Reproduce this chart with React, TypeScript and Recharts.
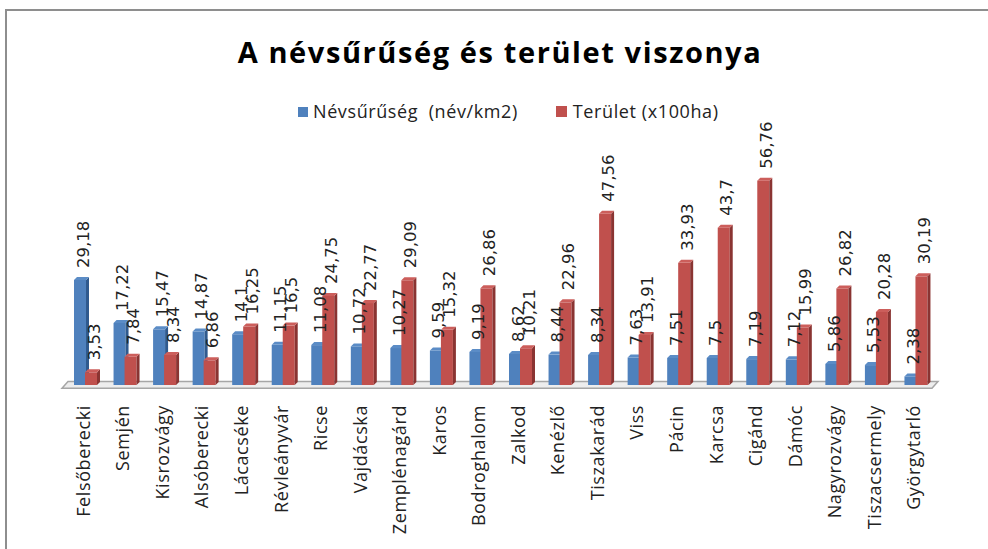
import React from 'react';
import { BarChart, Bar, XAxis, YAxis, LabelList, ReferenceArea } from 'recharts';

const categories = [
  'Felsőberecki', 'Semjén', 'Kisrozvágy', 'Alsóberecki', 'Lácacséke', 'Révleányvár',
  'Ricse', 'Vajdácska', 'Zemplénagárd', 'Karos', 'Bodroghalom', 'Zalkod', 'Kenézlő',
  'Tiszakarád', 'Viss', 'Pácin', 'Karcsa', 'Cigánd', 'Dámóc', 'Nagyrozvágy',
  'Tiszacsermely', 'Györgytarló',
];
const nevsuruseg = [
  29.18, 17.22, 15.47, 14.87, 14.1, 11.15, 11.08, 10.72, 10.27, 9.59, 9.19, 8.62, 8.44,
  8.34, 7.63, 7.51, 7.5, 7.19, 7.12, 5.86, 5.53, 2.38,
];
const terulet = [
  3.53, 7.84, 8.34, 6.86, 16.25, 16.5, 24.75, 22.77, 29.09, 15.32, 26.86, 10.21, 22.96,
  47.56, 13.91, 33.93, 43.7, 56.76, 15.99, 26.82, 20.28, 30.19,
];
const seriesNames = ['Névsűrűség  (név/km2)', 'Terület (x100ha)'];
const title = 'A névsűrűség és terület viszonya';

const data = categories.map((name, i) => ({ name, nev: nevsuruseg[i], ter: terulet[i] }));

const BLUE = '#4F81BD';
const BLUE_SIDE = '#2F5A8E';
const BLUE_TOP = '#5B8CC6';
const RED = '#C0504D';
const RED_SIDE = '#8A3432';
const RED_TOP = '#CC5E5B';
const D = 3;

const make3DBar = (front: string, side: string, top: string) => (props: any) => {
  const { x, y, width, height } = props;
  if (height == null || width == null) return <g />;
  return (
    <g>
      <rect x={x} y={y} width={width} height={height} fill={front} />
      <polygon
        points={`${x + width},${y} ${x + width + D},${y - D} ${x + width + D},${y + height - D} ${x + width},${y + height}`}
        fill={side}
      />
      <polygon
        points={`${x},${y} ${x + D},${y - D} ${x + width + D},${y - D} ${x + width},${y}`}
        fill={top}
      />
    </g>
  );
};

const ValueLabel = (props: any) => {
  const { x, y, width, value } = props;
  const cx = x + width / 2 + 3;
  const cy = y - 12;
  return (
    <text
      transform={`translate(${cx},${cy}) rotate(-90)`}
      textAnchor="start"
      dominantBaseline="central"
      fontFamily="DejaVu Sans"
      fontSize={16.5}
      fill="#222"
    >
      {String(value).replace('.', ',')}
    </text>
  );
};

const CategoryTick = (props: any) => {
  const { x, y, payload } = props;
  return (
    <text
      transform={`translate(${x - 3},${y + 2}) rotate(-90)`}
      textAnchor="end"
      dominantBaseline="central"
      fontFamily="Open Sans"
      fontSize={18}
      letterSpacing={0.6}
      fill="#222"
    >
      {payload.value}
    </text>
  );
};

const FloorShape = (props: any) => {
  const { x, y, width, height } = props;
  const s = 6;
  return (
    <g>
      <polygon
        points={`${x - 4},${y + height} ${x + width - 4},${y + height} ${x + width + s - 4},${y} ${x + s - 4},${y}`}
        fill="#EDEDED"
        stroke="#A6A6A6"
        strokeWidth={1.5}
      />
    </g>
  );
};

export default function App() {
  return (
    <div style={{ position: 'absolute', left: 0, top: 0, width: 988, height: 549, overflow: 'hidden', background: '#fff' }}>
      <div
        style={{
          position: 'absolute', left: 5, top: 9, width: 1000, height: 560,
          borderTop: '2px solid #8E8E8E', borderLeft: '2px solid #8E8E8E',
        }}
      />
      <div
        style={{
          position: 'absolute', left: 0, top: 32, width: 1000, textAlign: 'center',
          fontFamily: 'Open Sans', fontWeight: 700, fontSize: 29, lineHeight: '40px',
          letterSpacing: 1.6, color: '#000',
        }}
      >
        {title}
      </div>
      <div
        style={{
          position: 'absolute', left: 298, top: 99, display: 'flex', alignItems: 'center',
          fontFamily: 'Open Sans', fontSize: 18, lineHeight: '25px', letterSpacing: 0.6,
          color: '#222', whiteSpace: 'pre',
        }}
      >
        <span style={{ display: 'inline-block', width: 10, height: 10, background: BLUE, marginRight: 5 }} />
        <span>{seriesNames[0]}</span>
        <span style={{ display: 'inline-block', width: 11, height: 11, background: RED, marginLeft: 38, marginRight: 6 }} />
        <span>{seriesNames[1]}</span>
      </div>
      <div style={{ position: 'absolute', left: 0, top: 0 }}>
        <BarChart
          width={988}
          height={549}
          data={data}
          margin={{ top: 169, right: 52, left: 66, bottom: 14 }}
          barSize={12}
          barGap={-1}
        >
          <XAxis
            dataKey="name"
            interval={0}
            axisLine={false}
            tickLine={false}
            tickSize={0}
            tickMargin={18}
            height={150}
            tick={<CategoryTick />}
          />
          <YAxis hide domain={[0, 60]} />
          <ReferenceArea y1={-0.9} y2={1.0} ifOverflow="visible" shape={<FloorShape />} />
          <Bar dataKey="nev" name={seriesNames[0]} fill={BLUE} isAnimationActive={false} shape={make3DBar(BLUE, BLUE_SIDE, BLUE_TOP)}>
            <LabelList dataKey="nev" content={<ValueLabel />} />
          </Bar>
          <Bar dataKey="ter" name={seriesNames[1]} fill={RED} isAnimationActive={false} shape={make3DBar(RED, RED_SIDE, RED_TOP)}>
            <LabelList dataKey="ter" content={<ValueLabel />} />
          </Bar>
        </BarChart>
      </div>
    </div>
  );
}
